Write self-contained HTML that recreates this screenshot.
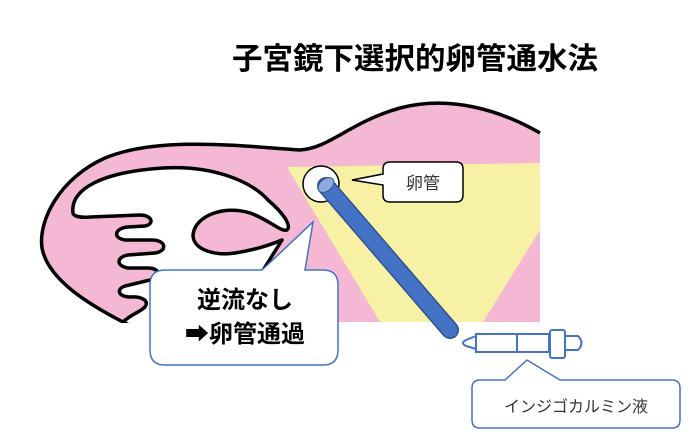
<!DOCTYPE html>
<html><head><meta charset="utf-8"><style>
html,body{margin:0;padding:0;background:#fff;}
svg{display:block;}
text{font-family:"Liberation Sans","Noto Sans CJK JP",sans-serif;}
</style></head><body>
<svg width="689" height="438" viewBox="0 0 689 438" xmlns="http://www.w3.org/2000/svg">
<text x="415" y="69" font-size="30" font-weight="bold" text-anchor="middle" fill="#000" textLength="366" lengthAdjust="spacingAndGlyphs">子宮鏡下選択的卵管通水法</text>
<!-- pink body -->
<path d="M540,133 C500,110 450,95 400,108 C350,122 330,148 300,150 C250,147 160,135 105,158 C60,178 38,220 42,248 C48,280 90,305 123,322 L540,322 Z" fill="#f4b8d4"/>
<path d="M540,133 C500,110 450,95 400,108 C350,122 330,148 300,150 C250,147 160,135 105,158 C60,178 38,220 42,248 C48,280 90,305 123,322" fill="none" stroke="#000" stroke-width="3.5"/>
<!-- yellow -->
<polygon points="287,167 540,163 540,230 483,322 380,322" fill="#f7f1a6"/>
<!-- cavity -->
<path d="M73,213 C70,190 100,172 163,168 C210,165 250,180 268,200 C282,212 292,225 287,230 C280,232 270,220 250,213 C225,205 195,215 193,235 C193,250 215,256 235,253 C255,250 270,245 282,240 L262,272 L160,340 L123,322 C130,315 140,312 145,307 C150,300 140,296 130,297 C118,297 116,289 125,286 L150,280 C162,277 160,268 148,268 L128,268 C116,266 116,257 128,255 L155,253 C168,251 166,240 152,240 L125,240 C112,238 115,228 128,227 L145,226 C155,224 152,215 140,215 L90,217 C80,218 73,216 73,213 Z" fill="#fff" stroke="#000" stroke-width="3.5" stroke-linejoin="round"/>
<rect x="0" y="323" width="470" height="115" fill="#fff"/>
<!-- white circle -->
<circle cx="321" cy="184" r="18" fill="#fff" stroke="#000" stroke-width="1.5"/>
<!-- tube -->
<line x1="326" y1="186" x2="450" y2="330" stroke="#2f528f" stroke-width="18" stroke-linecap="round"/>
<line x1="326" y1="186" x2="450" y2="330" stroke="#4472c4" stroke-width="15" stroke-linecap="round"/>
<ellipse cx="326" cy="185" rx="9" ry="6" transform="rotate(-40 326 185)" fill="#8faadc" stroke="#2f528f" stroke-width="1"/>
<!-- callout 卵管 -->
<path d="M390,162 H456 Q463,162 463,169 V195 Q463,202 456,202 H390 Q383,202 383,195 V185 L352,180 L383,174 V169 Q383,162 390,162 Z" fill="#fff" stroke="#000" stroke-width="1.5"/>
<text x="423" y="189" font-size="17" text-anchor="middle" fill="#333">卵管</text>
<!-- big callout -->
<path d="M165,270 H262 L313,222 L305,270 H323 Q338,270 338,285 V350 Q338,365 323,365 H165 Q150,365 150,350 V285 Q150,270 165,270 Z" fill="#fff" stroke="#4472c4" stroke-width="1.5"/>
<text x="245" y="308" font-size="24" font-weight="bold" text-anchor="middle" fill="#000">逆流なし</text>
<text x="245" y="342" font-size="24" font-weight="bold" text-anchor="middle" fill="#000">➡卵管通過</text>
<!-- dropper -->
<g fill="#fff" stroke="#4472c4" stroke-width="2">
<path d="M476,336 L466,340 Q460,343 466,346 L476,349 Z"/>
<rect x="476" y="334" width="73" height="18"/>
<line x1="517" y1="334" x2="517" y2="352"/>
<path d="M565,336 H578 Q585,343 578,350 H565 Z"/>
<rect x="550" y="330" width="15" height="28" rx="2"/>
</g>
<path d="M484,380 H505 L527,360 L560,380 H672 Q680,380 680,388 V420 Q680,428 672,428 H480 Q472,428 472,420 V388 Q472,380 480,380 Z" fill="#fff" stroke="#4472c4" stroke-width="1.5"/>
<text x="576" y="412" font-size="16" text-anchor="middle" fill="#333">インジゴカルミン液</text>
</svg>
</body></html>
